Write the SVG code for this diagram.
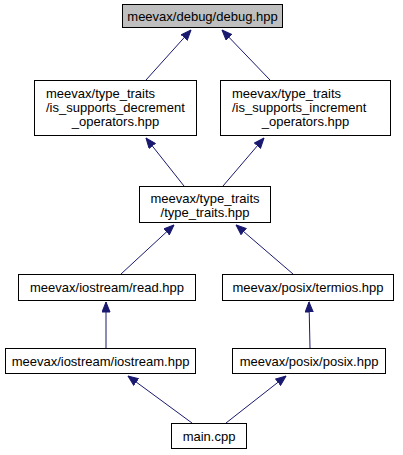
<svg xmlns="http://www.w3.org/2000/svg" width="403" height="455" viewBox="0 0 403 455">
<style>
.n rect{fill:#ffffff;stroke:#000000;stroke-width:1}
.n.g rect{fill:#bfbfbf}
text{font-family:"Liberation Sans",Arial,sans-serif;font-size:13px;fill:#000000}
.c{text-anchor:middle}
.e path{stroke:#191970;stroke-width:1;fill:none}
</style>
<defs>
<marker id="ah" markerUnits="userSpaceOnUse" markerWidth="11" markerHeight="9" viewBox="0 0 11 9" refX="10.5" refY="4.5" orient="auto">
<path d="M0.5,0.5 L10.5,4.5 L0.5,8.5 Z" fill="#191970" stroke="#191970" stroke-width="1"/>
</marker>
</defs>
<rect width="403" height="455" fill="#ffffff"/>
<g id="edges" class="e">
<path d="M146,80 L191,30" marker-end="url(#ah)"/>
<path d="M270,80 L222,30" marker-end="url(#ah)"/>
<path d="M184,186 L146,138" marker-end="url(#ah)"/>
<path d="M223,186 L264,138" marker-end="url(#ah)"/>
<path d="M121,274 L174,225" marker-end="url(#ah)"/>
<path d="M293,274 L236,225" marker-end="url(#ah)"/>
<path d="M106,348 L106,302" marker-end="url(#ah)"/>
<path d="M310,348 L309,302" marker-end="url(#ah)"/>
<path d="M192,423 L128,376" marker-end="url(#ah)"/>
<path d="M226,423 L286,376" marker-end="url(#ah)"/>
</g>
<g id="debug" class="n g">
<rect x="122.5" y="4.5" width="160" height="23"/>
<text class="c" x="202.5" y="21">meevax/debug/debug.hpp</text>
</g>
<g id="decrement" class="n">
<rect x="34.5" y="80.5" width="162" height="55"/>
<text x="46" y="98">meevax/type_traits</text>
<text x="46" y="112">/is_supports_decrement</text>
<text class="c" x="115.5" y="126">_operators.hpp</text>
</g>
<g id="increment" class="n">
<rect x="220.5" y="80.5" width="170" height="55"/>
<text x="232" y="98">meevax/type_traits</text>
<text x="232" y="112">/is_supports_increment</text>
<text class="c" x="305.5" y="126">_operators.hpp</text>
</g>
<g id="type_traits" class="n">
<rect x="139.5" y="186.5" width="131" height="36"/>
<text class="c" x="205" y="203">meevax/type_traits</text>
<text class="c" x="205" y="217">/type_traits.hpp</text>
</g>
<g id="read" class="n">
<rect x="18.5" y="274.5" width="177" height="26"/>
<text class="c" x="107" y="292">meevax/iostream/read.hpp</text>
</g>
<g id="termios" class="n">
<rect x="222.5" y="274.5" width="171" height="26"/>
<text class="c" x="308" y="292">meevax/posix/termios.hpp</text>
</g>
<g id="iostream" class="n">
<rect x="5.5" y="348.5" width="190" height="25"/>
<text class="c" x="100.5" y="366">meevax/iostream/iostream.hpp</text>
</g>
<g id="posix" class="n">
<rect x="232.5" y="348.5" width="153" height="25"/>
<text class="c" x="309" y="366">meevax/posix/posix.hpp</text>
</g>
<g id="main" class="n">
<rect x="171.5" y="423.5" width="75" height="25"/>
<text class="c" x="209" y="441">main.cpp</text>
</g>
</svg>
